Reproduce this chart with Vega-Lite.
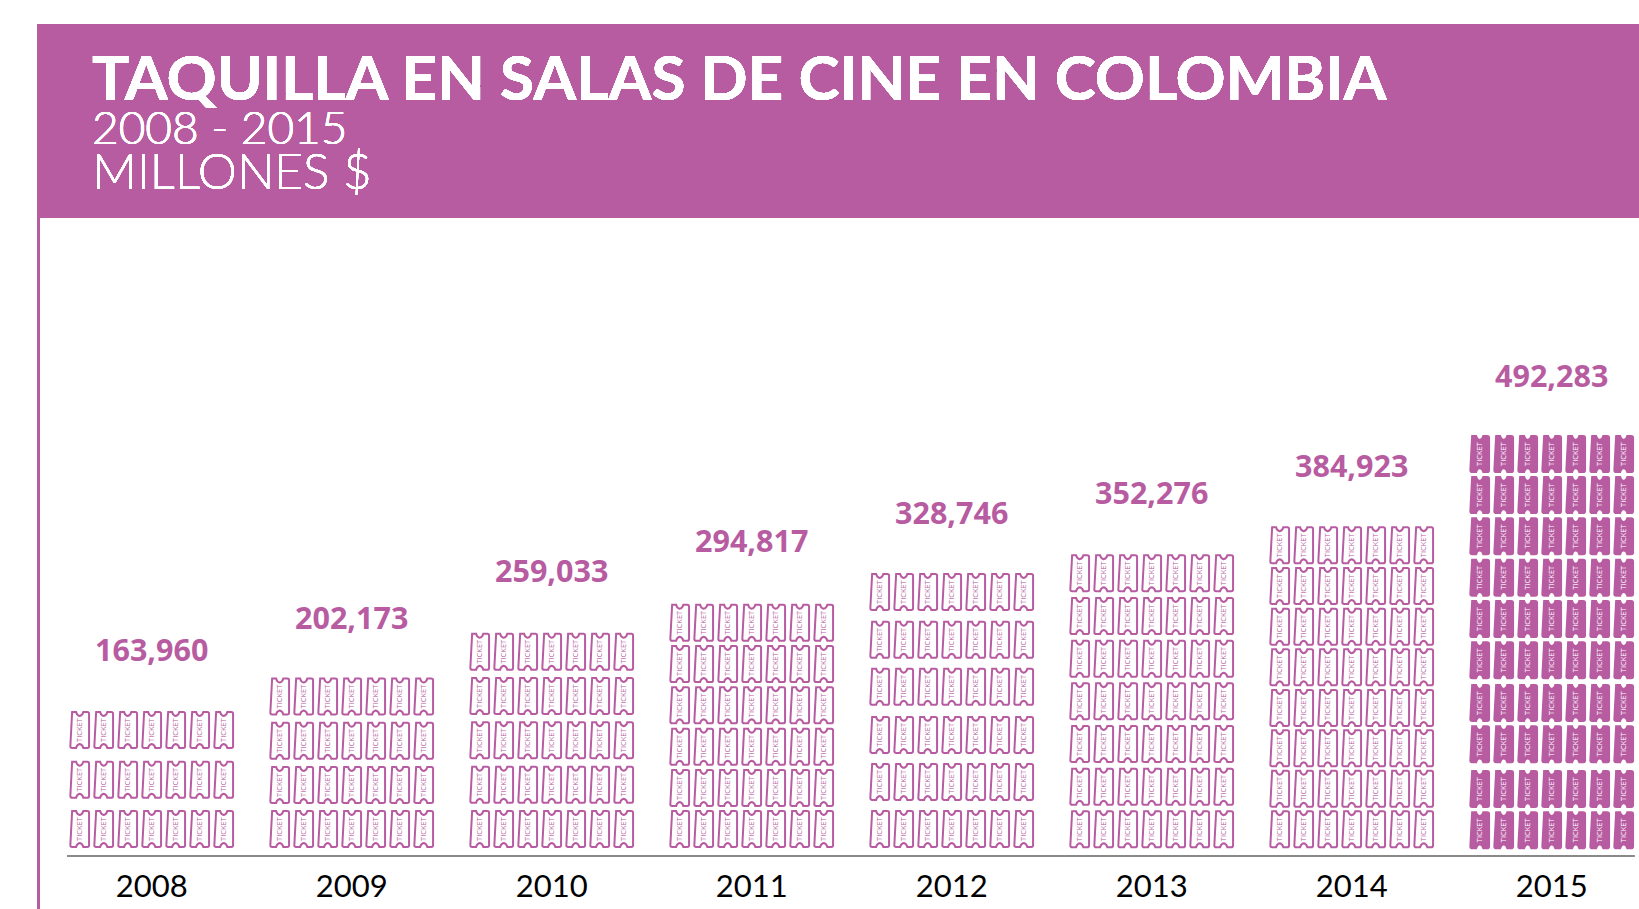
{"$schema":"https://vega.github.io/schema/vega-lite/v6.json","width":1639,"height":909,"autosize":{"type":"fit","contains":"padding"},"padding":0,"background":"white","view":{"stroke":null},
"datasets":{"totals":[{"year":2008,"value":163960},{"year":2009,"value":202173},{"year":2010,"value":259033},{"year":2011,"value":294817},{"year":2012,"value":328746},{"year":2013,"value":352276},{"year":2014,"value":384923},{"year":2015,"value":492283}],
"tickets":[
{"year":2008,"col":-3,"pos":141148},{"year":2008,"col":-2,"pos":141148},{"year":2008,"col":-1,"pos":141148},{"year":2008,"col":0,"pos":141148},{"year":2008,"col":1,"pos":141148},{"year":2008,"col":2,"pos":141148},{"year":2008,"col":3,"pos":141148},
{"year":2008,"col":-3,"pos":81698},{"year":2008,"col":-2,"pos":81698},{"year":2008,"col":-1,"pos":81698},{"year":2008,"col":0,"pos":81698},{"year":2008,"col":1,"pos":81698},{"year":2008,"col":2,"pos":81698},{"year":2008,"col":3,"pos":81698},
{"year":2008,"col":-3,"pos":22727},{"year":2008,"col":-2,"pos":22727},{"year":2008,"col":-1,"pos":22727},{"year":2008,"col":0,"pos":22727},{"year":2008,"col":1,"pos":22727},{"year":2008,"col":2,"pos":22727},{"year":2008,"col":3,"pos":22727},
{"year":2009,"col":-3,"pos":181220},{"year":2009,"col":-2,"pos":181220},{"year":2009,"col":-1,"pos":181220},{"year":2009,"col":0,"pos":181220},{"year":2009,"col":1,"pos":181220},{"year":2009,"col":2,"pos":181220},{"year":2009,"col":3,"pos":181220},
{"year":2009,"col":-3,"pos":128349},{"year":2009,"col":-2,"pos":128349},{"year":2009,"col":-1,"pos":128349},{"year":2009,"col":0,"pos":128349},{"year":2009,"col":1,"pos":128349},{"year":2009,"col":2,"pos":128349},{"year":2009,"col":3,"pos":128349},
{"year":2009,"col":-3,"pos":75359},{"year":2009,"col":-2,"pos":75359},{"year":2009,"col":-1,"pos":75359},{"year":2009,"col":0,"pos":75359},{"year":2009,"col":1,"pos":75359},{"year":2009,"col":2,"pos":75359},{"year":2009,"col":3,"pos":75359},
{"year":2009,"col":-3,"pos":22727},{"year":2009,"col":-2,"pos":22727},{"year":2009,"col":-1,"pos":22727},{"year":2009,"col":0,"pos":22727},{"year":2009,"col":1,"pos":22727},{"year":2009,"col":2,"pos":22727},{"year":2009,"col":3,"pos":22727},
{"year":2010,"col":-3,"pos":234808},{"year":2010,"col":-2,"pos":234808},{"year":2010,"col":-1,"pos":234808},{"year":2010,"col":0,"pos":234808},{"year":2010,"col":1,"pos":234808},{"year":2010,"col":2,"pos":234808},{"year":2010,"col":3,"pos":234808},
{"year":2010,"col":-3,"pos":181818},{"year":2010,"col":-2,"pos":181818},{"year":2010,"col":-1,"pos":181818},{"year":2010,"col":0,"pos":181818},{"year":2010,"col":1,"pos":181818},{"year":2010,"col":2,"pos":181818},{"year":2010,"col":3,"pos":181818},
{"year":2010,"col":-3,"pos":128827},{"year":2010,"col":-2,"pos":128827},{"year":2010,"col":-1,"pos":128827},{"year":2010,"col":0,"pos":128827},{"year":2010,"col":1,"pos":128827},{"year":2010,"col":2,"pos":128827},{"year":2010,"col":3,"pos":128827},
{"year":2010,"col":-3,"pos":75718},{"year":2010,"col":-2,"pos":75718},{"year":2010,"col":-1,"pos":75718},{"year":2010,"col":0,"pos":75718},{"year":2010,"col":1,"pos":75718},{"year":2010,"col":2,"pos":75718},{"year":2010,"col":3,"pos":75718},
{"year":2010,"col":-3,"pos":22727},{"year":2010,"col":-2,"pos":22727},{"year":2010,"col":-1,"pos":22727},{"year":2010,"col":0,"pos":22727},{"year":2010,"col":1,"pos":22727},{"year":2010,"col":2,"pos":22727},{"year":2010,"col":3,"pos":22727},
{"year":2011,"col":-3,"pos":269497},{"year":2011,"col":-2,"pos":269497},{"year":2011,"col":-1,"pos":269497},{"year":2011,"col":0,"pos":269497},{"year":2011,"col":1,"pos":269497},{"year":2011,"col":2,"pos":269497},{"year":2011,"col":3,"pos":269497},
{"year":2011,"col":-3,"pos":220095},{"year":2011,"col":-2,"pos":220095},{"year":2011,"col":-1,"pos":220095},{"year":2011,"col":0,"pos":220095},{"year":2011,"col":1,"pos":220095},{"year":2011,"col":2,"pos":220095},{"year":2011,"col":3,"pos":220095},
{"year":2011,"col":-3,"pos":170694},{"year":2011,"col":-2,"pos":170694},{"year":2011,"col":-1,"pos":170694},{"year":2011,"col":0,"pos":170694},{"year":2011,"col":1,"pos":170694},{"year":2011,"col":2,"pos":170694},{"year":2011,"col":3,"pos":170694},
{"year":2011,"col":-3,"pos":121172},{"year":2011,"col":-2,"pos":121172},{"year":2011,"col":-1,"pos":121172},{"year":2011,"col":0,"pos":121172},{"year":2011,"col":1,"pos":121172},{"year":2011,"col":2,"pos":121172},{"year":2011,"col":3,"pos":121172},
{"year":2011,"col":-3,"pos":71770},{"year":2011,"col":-2,"pos":71770},{"year":2011,"col":-1,"pos":71770},{"year":2011,"col":0,"pos":71770},{"year":2011,"col":1,"pos":71770},{"year":2011,"col":2,"pos":71770},{"year":2011,"col":3,"pos":71770},
{"year":2011,"col":-3,"pos":22727},{"year":2011,"col":-2,"pos":22727},{"year":2011,"col":-1,"pos":22727},{"year":2011,"col":0,"pos":22727},{"year":2011,"col":1,"pos":22727},{"year":2011,"col":2,"pos":22727},{"year":2011,"col":3,"pos":22727},
{"year":2012,"col":-3,"pos":306220},{"year":2012,"col":-2,"pos":306220},{"year":2012,"col":-1,"pos":306220},{"year":2012,"col":0,"pos":306220},{"year":2012,"col":1,"pos":306220},{"year":2012,"col":2,"pos":306220},{"year":2012,"col":3,"pos":306220},
{"year":2012,"col":-3,"pos":249162},{"year":2012,"col":-2,"pos":249162},{"year":2012,"col":-1,"pos":249162},{"year":2012,"col":0,"pos":249162},{"year":2012,"col":1,"pos":249162},{"year":2012,"col":2,"pos":249162},{"year":2012,"col":3,"pos":249162},
{"year":2012,"col":-3,"pos":192823},{"year":2012,"col":-2,"pos":192823},{"year":2012,"col":-1,"pos":192823},{"year":2012,"col":0,"pos":192823},{"year":2012,"col":1,"pos":192823},{"year":2012,"col":2,"pos":192823},{"year":2012,"col":3,"pos":192823},
{"year":2012,"col":-3,"pos":135287},{"year":2012,"col":-2,"pos":135287},{"year":2012,"col":-1,"pos":135287},{"year":2012,"col":0,"pos":135287},{"year":2012,"col":1,"pos":135287},{"year":2012,"col":2,"pos":135287},{"year":2012,"col":3,"pos":135287},
{"year":2012,"col":-3,"pos":79067},{"year":2012,"col":-2,"pos":79067},{"year":2012,"col":-1,"pos":79067},{"year":2012,"col":0,"pos":79067},{"year":2012,"col":1,"pos":79067},{"year":2012,"col":2,"pos":79067},{"year":2012,"col":3,"pos":79067},
{"year":2012,"col":-3,"pos":22727},{"year":2012,"col":-2,"pos":22727},{"year":2012,"col":-1,"pos":22727},{"year":2012,"col":0,"pos":22727},{"year":2012,"col":1,"pos":22727},{"year":2012,"col":2,"pos":22727},{"year":2012,"col":3,"pos":22727},
{"year":2013,"col":-3,"pos":328588},{"year":2013,"col":-2,"pos":328588},{"year":2013,"col":-1,"pos":328588},{"year":2013,"col":0,"pos":328588},{"year":2013,"col":1,"pos":328588},{"year":2013,"col":2,"pos":328588},{"year":2013,"col":3,"pos":328588},
{"year":2013,"col":-3,"pos":277511},{"year":2013,"col":-2,"pos":277511},{"year":2013,"col":-1,"pos":277511},{"year":2013,"col":0,"pos":277511},{"year":2013,"col":1,"pos":277511},{"year":2013,"col":2,"pos":277511},{"year":2013,"col":3,"pos":277511},
{"year":2013,"col":-3,"pos":226435},{"year":2013,"col":-2,"pos":226435},{"year":2013,"col":-1,"pos":226435},{"year":2013,"col":0,"pos":226435},{"year":2013,"col":1,"pos":226435},{"year":2013,"col":2,"pos":226435},{"year":2013,"col":3,"pos":226435},
{"year":2013,"col":-3,"pos":175478},{"year":2013,"col":-2,"pos":175478},{"year":2013,"col":-1,"pos":175478},{"year":2013,"col":0,"pos":175478},{"year":2013,"col":1,"pos":175478},{"year":2013,"col":2,"pos":175478},{"year":2013,"col":3,"pos":175478},
{"year":2013,"col":-3,"pos":124402},{"year":2013,"col":-2,"pos":124402},{"year":2013,"col":-1,"pos":124402},{"year":2013,"col":0,"pos":124402},{"year":2013,"col":1,"pos":124402},{"year":2013,"col":2,"pos":124402},{"year":2013,"col":3,"pos":124402},
{"year":2013,"col":-3,"pos":73325},{"year":2013,"col":-2,"pos":73325},{"year":2013,"col":-1,"pos":73325},{"year":2013,"col":0,"pos":73325},{"year":2013,"col":1,"pos":73325},{"year":2013,"col":2,"pos":73325},{"year":2013,"col":3,"pos":73325},
{"year":2013,"col":-3,"pos":22368},{"year":2013,"col":-2,"pos":22368},{"year":2013,"col":-1,"pos":22368},{"year":2013,"col":0,"pos":22368},{"year":2013,"col":1,"pos":22368},{"year":2013,"col":2,"pos":22368},{"year":2013,"col":3,"pos":22368},
{"year":2014,"col":-3,"pos":362081},{"year":2014,"col":-2,"pos":362081},{"year":2014,"col":-1,"pos":362081},{"year":2014,"col":0,"pos":362081},{"year":2014,"col":1,"pos":362081},{"year":2014,"col":2,"pos":362081},{"year":2014,"col":3,"pos":362081},
{"year":2014,"col":-3,"pos":313397},{"year":2014,"col":-2,"pos":313397},{"year":2014,"col":-1,"pos":313397},{"year":2014,"col":0,"pos":313397},{"year":2014,"col":1,"pos":313397},{"year":2014,"col":2,"pos":313397},{"year":2014,"col":3,"pos":313397},
{"year":2014,"col":-3,"pos":264712},{"year":2014,"col":-2,"pos":264712},{"year":2014,"col":-1,"pos":264712},{"year":2014,"col":0,"pos":264712},{"year":2014,"col":1,"pos":264712},{"year":2014,"col":2,"pos":264712},{"year":2014,"col":3,"pos":264712},
{"year":2014,"col":-3,"pos":216148},{"year":2014,"col":-2,"pos":216148},{"year":2014,"col":-1,"pos":216148},{"year":2014,"col":0,"pos":216148},{"year":2014,"col":1,"pos":216148},{"year":2014,"col":2,"pos":216148},{"year":2014,"col":3,"pos":216148},
{"year":2014,"col":-3,"pos":167464},{"year":2014,"col":-2,"pos":167464},{"year":2014,"col":-1,"pos":167464},{"year":2014,"col":0,"pos":167464},{"year":2014,"col":1,"pos":167464},{"year":2014,"col":2,"pos":167464},{"year":2014,"col":3,"pos":167464},
{"year":2014,"col":-3,"pos":119258},{"year":2014,"col":-2,"pos":119258},{"year":2014,"col":-1,"pos":119258},{"year":2014,"col":0,"pos":119258},{"year":2014,"col":1,"pos":119258},{"year":2014,"col":2,"pos":119258},{"year":2014,"col":3,"pos":119258},
{"year":2014,"col":-3,"pos":70933},{"year":2014,"col":-2,"pos":70933},{"year":2014,"col":-1,"pos":70933},{"year":2014,"col":0,"pos":70933},{"year":2014,"col":1,"pos":70933},{"year":2014,"col":2,"pos":70933},{"year":2014,"col":3,"pos":70933},
{"year":2014,"col":-3,"pos":22368},{"year":2014,"col":-2,"pos":22368},{"year":2014,"col":-1,"pos":22368},{"year":2014,"col":0,"pos":22368},{"year":2014,"col":1,"pos":22368},{"year":2014,"col":2,"pos":22368},{"year":2014,"col":3,"pos":22368},
{"year":2015,"col":-3,"pos":471291},{"year":2015,"col":-2,"pos":471291},{"year":2015,"col":-1,"pos":471291},{"year":2015,"col":0,"pos":471291},{"year":2015,"col":1,"pos":471291},{"year":2015,"col":2,"pos":471291},{"year":2015,"col":3,"pos":471291},
{"year":2015,"col":-3,"pos":422248},{"year":2015,"col":-2,"pos":422248},{"year":2015,"col":-1,"pos":422248},{"year":2015,"col":0,"pos":422248},{"year":2015,"col":1,"pos":422248},{"year":2015,"col":2,"pos":422248},{"year":2015,"col":3,"pos":422248},
{"year":2015,"col":-3,"pos":372846},{"year":2015,"col":-2,"pos":372846},{"year":2015,"col":-1,"pos":372846},{"year":2015,"col":0,"pos":372846},{"year":2015,"col":1,"pos":372846},{"year":2015,"col":2,"pos":372846},{"year":2015,"col":3,"pos":372846},
{"year":2015,"col":-3,"pos":323326},{"year":2015,"col":-2,"pos":323326},{"year":2015,"col":-1,"pos":323326},{"year":2015,"col":0,"pos":323326},{"year":2015,"col":1,"pos":323326},{"year":2015,"col":2,"pos":323326},{"year":2015,"col":3,"pos":323326},
{"year":2015,"col":-3,"pos":273923},{"year":2015,"col":-2,"pos":273923},{"year":2015,"col":-1,"pos":273923},{"year":2015,"col":0,"pos":273923},{"year":2015,"col":1,"pos":273923},{"year":2015,"col":2,"pos":273923},{"year":2015,"col":3,"pos":273923},
{"year":2015,"col":-3,"pos":224521},{"year":2015,"col":-2,"pos":224521},{"year":2015,"col":-1,"pos":224521},{"year":2015,"col":0,"pos":224521},{"year":2015,"col":1,"pos":224521},{"year":2015,"col":2,"pos":224521},{"year":2015,"col":3,"pos":224521},
{"year":2015,"col":-3,"pos":173445},{"year":2015,"col":-2,"pos":173445},{"year":2015,"col":-1,"pos":173445},{"year":2015,"col":0,"pos":173445},{"year":2015,"col":1,"pos":173445},{"year":2015,"col":2,"pos":173445},{"year":2015,"col":3,"pos":173445},
{"year":2015,"col":-3,"pos":124043},{"year":2015,"col":-2,"pos":124043},{"year":2015,"col":-1,"pos":124043},{"year":2015,"col":0,"pos":124043},{"year":2015,"col":1,"pos":124043},{"year":2015,"col":2,"pos":124043},{"year":2015,"col":3,"pos":124043},
{"year":2015,"col":-3,"pos":70574},{"year":2015,"col":-2,"pos":70574},{"year":2015,"col":-1,"pos":70574},{"year":2015,"col":0,"pos":70574},{"year":2015,"col":1,"pos":70574},{"year":2015,"col":2,"pos":70574},{"year":2015,"col":3,"pos":70574},
{"year":2015,"col":-3,"pos":21172},{"year":2015,"col":-2,"pos":21172},{"year":2015,"col":-1,"pos":21172},{"year":2015,"col":0,"pos":21172},{"year":2015,"col":1,"pos":21172},{"year":2015,"col":2,"pos":21172},{"year":2015,"col":3,"pos":21172}
]},
"data":{"name":"totals"},
"resolve":{"scale":{"x":"independent","y":"shared"},"axis":{"x":"independent"}},
"layer":[
{"layer":[
{"mark":{"type":"rect","color":"#b85ca2"},"encoding":{"x":{"datum":2007.4265,"type":"quantitative","scale":{"domain":[2007.2415,2015.4365],"nice":false,"zero":false},"axis":null},"x2":{"datum":2015.4365},"y":{"datum":985644,"type":"quantitative","scale":{"domain":[-72967,1014354],"nice":false,"zero":false},"axis":null},"y2":{"datum":753587}}},
{"mark":{"type":"rect","color":"#b85ca2"},"encoding":{"x":{"datum":2007.4265,"type":"quantitative"},"x2":{"datum":2007.4415},"y":{"datum":753587,"type":"quantitative"},"y2":{"datum":-72967}}},
{"mark":{"type":"rule","color":"#8a8a8a","strokeWidth":1.5},"encoding":{"x":{"datum":2007.578,"type":"quantitative"},"x2":{"datum":2015.413},"y":{"datum":-9569,"type":"quantitative"}}},
{"mark":{"type":"text","text":"TAQUILLA EN SALAS DE CINE EN COLOMBIA","align":"left","baseline":"alphabetic","font":"Lato","fontWeight":"bold","fontSize":62,"color":"white"},"encoding":{"x":{"datum":2007.7015,"type":"quantitative"},"y":{"datum":894735,"type":"quantitative"}}},
{"mark":{"type":"text","text":"2008 - 2015","align":"left","baseline":"alphabetic","font":"Lato","fontWeight":300,"fontSize":46,"color":"white"},"encoding":{"x":{"datum":2007.7015,"type":"quantitative"},"y":{"datum":841746,"type":"quantitative"}}},
{"mark":{"type":"text","text":"MILLONES $","align":"left","baseline":"alphabetic","font":"Lato","fontWeight":300,"fontSize":49.5,"color":"white"},"encoding":{"x":{"datum":2007.7015,"type":"quantitative"},"y":{"datum":787917,"type":"quantitative"}}}
]},
{"layer":[
{"data":{"name":"tickets"},"mark":{"type":"point","filled":true,"size":1296,"opacity":1,"stroke":"#b85ca2","strokeWidth":2,"shape":"M-0.42,-1 L-0.2,-1 Q-0.15,-0.8 0,-0.78 Q0.15,-0.8 0.2,-1 L0.42,-1 Q0.52,-1 0.52,-0.9 L0.52,0.9 Q0.52,1 0.42,1 L0.2,1 Q0.15,0.8 0,0.78 Q-0.15,0.8 -0.2,1 L-0.42,1 Q-0.52,1 -0.52,0.9 Z"},"encoding":{"x":{"field":"year","type":"ordinal","scale":{"domain":[2008,2009,2010,2011,2012,2013,2014,2015],"range":[51.7,1651.7],"paddingInner":0,"paddingOuter":0},"axis":{"title":null,"grid":false,"domain":false,"ticks":false,"orient":"bottom","offset":-22,"labelPadding":0,"labelAngle":0,"labelBaseline":"middle","labelFont":"Lato","labelFontSize":31,"labelColor":"#000000"}},"xOffset":{"field":"col","type":"quantitative","scale":{"domain":[-3,3],"range":[28,172]}},"y":{"field":"pos","type":"quantitative"},"fill":{"condition":{"test":"datum.year === 2015","value":"#b85ca2"},"value":"#ffffff"}}},
{"data":{"name":"tickets"},"mark":{"type":"text","text":"TICKET","angle":270,"align":"center","baseline":"middle","font":"Open Sans","fontSize":7.5},"encoding":{"x":{"field":"year","type":"ordinal"},"xOffset":{"field":"col","type":"quantitative","scale":{"domain":[-3,3],"range":[28,172]}},"y":{"field":"pos","type":"quantitative"},"color":{"condition":{"test":"datum.year === 2015","value":"#ffffff"},"value":"#b85ca2"}}},
{"mark":{"type":"text","baseline":"middle","align":"center","font":"Open Sans","fontWeight":"bold","fontSize":30.5,"dy":-58.5,"color":"#b85ca2"},"encoding":{"x":{"field":"year","type":"ordinal"},"y":{"field":"value","type":"quantitative"},"text":{"field":"value","type":"quantitative","format":","}}}
]}
]}
